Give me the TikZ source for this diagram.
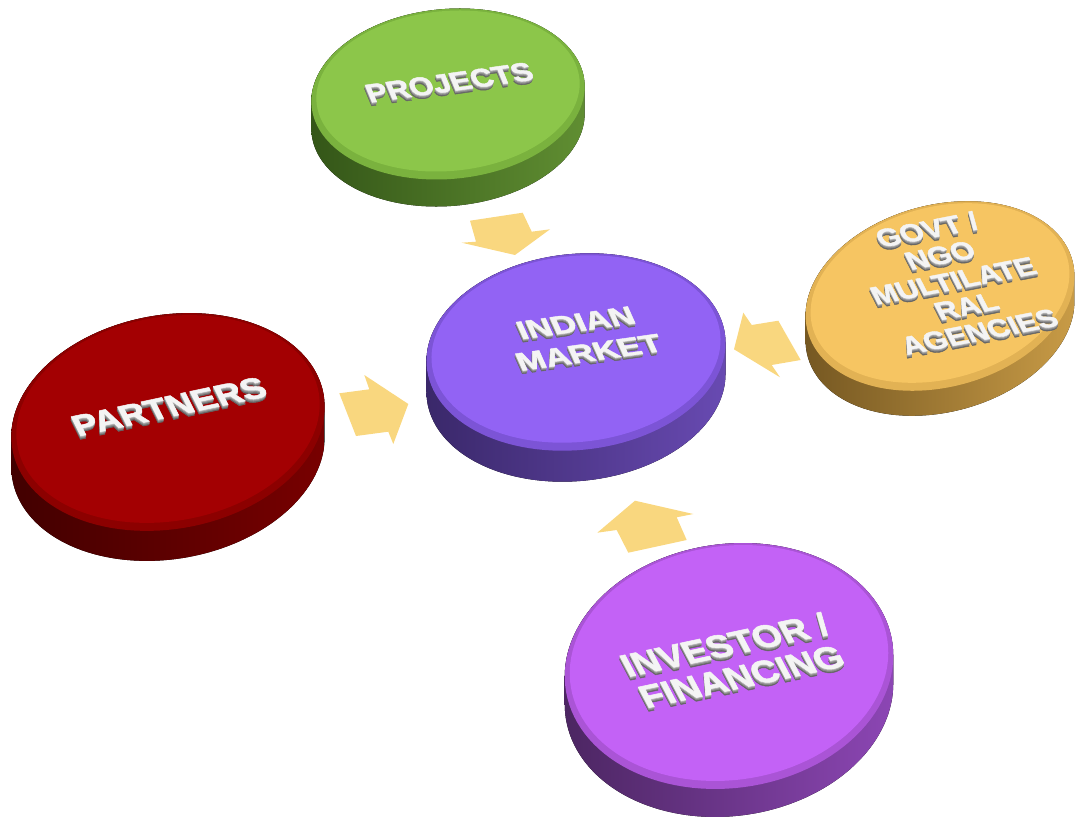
\documentclass[tikz,border=0pt]{standalone}
\usepackage{fontspec}
\setmainfont{Liberation Sans}[BoldFeatures={FakeBold=1.6}]
% disc colours
\definecolor{greenTop}{RGB}{140,198,74}
\definecolor{greenRim}{RGB}{122,178,62}
\definecolor{greenSideA}{RGB}{52,86,24}
\definecolor{greenSideB}{RGB}{96,142,50}
\definecolor{blueTop}{RGB}{146,99,244}
\definecolor{blueRim}{RGB}{124,84,214}
\definecolor{blueSideA}{RGB}{58,40,106}
\definecolor{blueSideB}{RGB}{104,74,178}
\definecolor{redTop}{RGB}{163,0,2}
\definecolor{redRim}{RGB}{140,0,0}
\definecolor{redSideA}{RGB}{66,0,0}
\definecolor{redSideB}{RGB}{120,0,0}
\definecolor{goldTop}{RGB}{246,197,98}
\definecolor{goldRim}{RGB}{226,178,84}
\definecolor{goldSideA}{RGB}{118,88,34}
\definecolor{goldSideB}{RGB}{200,155,70}
\definecolor{violetTop}{RGB}{195,98,246}
\definecolor{violetRim}{RGB}{170,84,214}
\definecolor{violetSideA}{RGB}{76,38,98}
\definecolor{violetSideB}{RGB}{140,70,180}
\definecolor{arrowfill}{RGB}{249,215,127}
\definecolor{faceText}{RGB}{244,244,244}
% embossed (extruded) text
\newcommand\emb[1]{%
  \makebox[0pt][l]{\hspace{-2.0pt}\raisebox{-4pt}{\textcolor{black!60}{#1}}}%
  \makebox[0pt][l]{\hspace{-1.2pt}\raisebox{-2.5pt}{\textcolor{black!45}{#1}}}%
  \makebox[0pt][l]{\hspace{-0.5pt}\raisebox{-1.1pt}{\textcolor{black!30}{#1}}}%
  #1}
% 3D disc: cx, cy, rx, ry, angle, thickness, colour prefix
\newcommand\drawdisc[7]{%
  \pgfmathsetmacro\dtz{atan(-(#4)*tan(#5)/(#3))}%
  \pgfmathsetmacro\dtzb{\dtz+180}%
  \pgfmathsetmacro\dtzc{\dtz+360}%
  \fill[left color=#7SideA, right color=#7SideB]
    plot[domain=\dtz:\dtzb, samples=90, variable=\ang]
      ({#1+(#3)*cos(\ang)*cos(#5)-(#4)*sin(\ang)*sin(#5)},
       {#2-((#3)*cos(\ang)*sin(#5)+(#4)*sin(\ang)*cos(#5))})
    -- plot[domain=\dtzb:\dtzc, samples=90, variable=\ang]
      ({#1+(#3)*cos(\ang)*cos(#5)-(#4)*sin(\ang)*sin(#5)},
       {#2+#6-((#3)*cos(\ang)*sin(#5)+(#4)*sin(\ang)*cos(#5))})
    -- cycle;
  \fill[#7Rim]
    plot[domain=0:360, samples=120, variable=\ang]
      ({#1+(#3)*cos(\ang)*cos(#5)-(#4)*sin(\ang)*sin(#5)},
       {#2-((#3)*cos(\ang)*sin(#5)+(#4)*sin(\ang)*cos(#5))}) -- cycle;
  \fill[#7Top]
    plot[domain=0:360, samples=120, variable=\ang]
      ({#1+(#3-5)*cos(\ang)*cos(#5)-(#4-5)*sin(\ang)*sin(#5)},
       {#2-3-((#3-5)*cos(\ang)*sin(#5)+(#4-5)*sin(\ang)*cos(#5))}) -- cycle;
}
\begin{document}
\begin{tikzpicture}[x=1pt,y=-1pt,
  disclabel/.style={text=faceText, align=center, inner sep=0pt},
  blockarrow/.style={fill=arrowfill, draw=none}]
\useasboundingbox (0,0) rectangle (1077,819);

% discs
\drawdisc{448}{94}{137}{85}{5}{27}{green}
\drawdisc{576}{352}{150}{98}{6}{31}{blue}
\drawdisc{168}{422}{158}{107}{10}{30}{red}
\drawdisc{940}{296}{137}{91}{15}{25}{gold}
\drawdisc{729}{666}{165}{122}{8}{28}{violet}

% block arrows pointing to the centre
\fill[blockarrow] (470,220.7) -- (522.7,212.7) -- (531.7,231.7) -- (550,229.3)
  -- (515,255) -- (461.7,242.7) -- (476,241.7) -- cycle;
\fill[blockarrow] (734,349.3) -- (743.3,312.7) -- (751.7,325) -- (778.3,320.7)
  -- (800.7,360) -- (771.7,365) -- (780,377.3) -- cycle;
\fill[blockarrow] (635,500.7) -- (693.3,514) -- (676.7,517.3) -- (686.7,540)
  -- (628.3,552.7) -- (616.7,530) -- (597.3,532.7) -- cycle;
\fill[blockarrow] (339.3,393.3) -- (369.3,389.3) -- (364.3,375) -- (408.3,404)
  -- (393.3,444) -- (388.3,431.7) -- (356,436) -- cycle;

% labels
\node[disclabel, font={\bfseries\fontsize{31}{36}\selectfont},
  rotate=8, yscale=0.85, xslant=-0.22] (projects) at (450,84) {\emb{PROJECTS}};
\node[disclabel, font={\bfseries\fontsize{34}{41}\selectfont},
  rotate=8, yscale=0.76, xslant=-0.22] (market) at (583,339) {\emb{INDIAN}\\\emb{MARKET}};
\node[disclabel, font={\bfseries\fontsize{36}{40}\selectfont},
  rotate=12, yscale=0.84, xslant=-0.22] (partners) at (170,408) {\emb{PARTNERS}};
\node[disclabel, font={\bfseries\fontsize{30}{32}\selectfont},
  rotate=11, yscale=0.86, xslant=-0.25] (govt) at (954,282)
  {\emb{GOVT /}\\\emb{NGO}\\\emb{MULTILATE}\\\emb{RAL}\\\emb{AGENCIES}};
\node[disclabel, font={\bfseries\fontsize{37}{39}\selectfont},
  rotate=12, yscale=0.88, xslant=-0.25] (investor) at (734,662)
  {\emb{INVESTOR /}\\\emb{FINANCING}};
\end{tikzpicture}
\end{document}
